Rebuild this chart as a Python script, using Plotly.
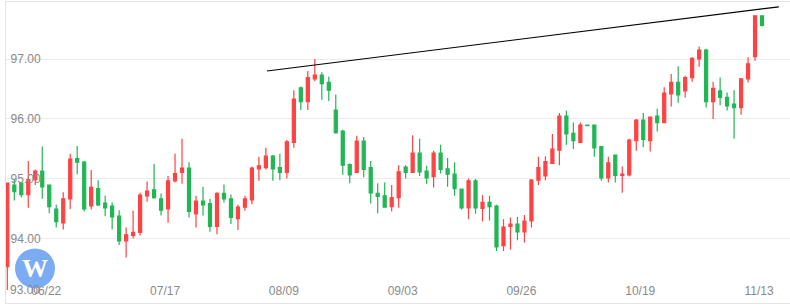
import plotly.graph_objects as go

# candle index (trading days 2018-06-14 .. 2018-11-13)
opens = [93.54, 94.90, 94.93, 94.74, 94.99, 95.13, 94.90, 94.50, 94.27, 94.67,
         95.34, 95.28, 94.55, 94.84, 94.60, 94.55, 94.38, 93.97, 94.06, 94.11,
         94.72, 94.82, 94.67, 94.50, 94.97, 95.11, 95.18, 94.42, 94.63, 94.59,
         94.21, 94.76, 94.67, 94.34, 94.53, 94.65, 95.17, 95.19, 95.38, 95.19,
         95.11, 95.61, 96.52, 96.29, 96.67, 96.73, 96.61, 96.15, 95.80, 95.24,
         95.11, 95.63, 95.19, 94.76, 94.72, 94.54, 94.69, 95.20, 95.11, 95.43,
         95.13, 95.04, 95.43, 95.17, 95.08, 94.83, 94.52, 94.97, 94.51, 94.61,
         94.55, 93.89, 94.21, 94.25, 94.12, 94.30, 94.98, 95.05, 95.26, 95.48,
         96.05, 95.76, 95.61, 95.90, 95.90, 95.54, 95.02, 95.40, 95.06, 95.07,
         95.64, 95.98, 95.64, 96.05, 95.94, 96.42, 96.61, 96.47, 96.69, 97.00,
         97.15, 96.29, 96.47, 96.36, 96.25, 96.19, 96.67, 97.04, 97.72]
highs = [94.94, 95.00, 94.95, 95.30, 95.16, 95.54, 94.90, 94.57, 94.78, 95.42,
         95.55, 95.30, 95.15, 94.98, 94.72, 94.61, 94.48, 94.19, 94.47, 94.77,
         94.96, 95.25, 94.76, 95.05, 95.42, 95.67, 95.28, 94.72, 94.87, 94.67,
         94.78, 94.91, 94.74, 94.57, 94.72, 95.21, 95.37, 95.52, 95.40, 95.42,
         95.65, 96.48, 96.54, 96.80, 97.00, 96.78, 96.71, 96.41, 95.82, 95.26,
         95.72, 95.70, 95.30, 94.93, 94.94, 94.90, 95.23, 95.23, 95.73, 95.67,
         95.22, 95.47, 95.57, 95.35, 95.28, 94.84, 95.01, 95.00, 94.73, 94.72,
         94.57, 94.33, 94.36, 94.37, 94.40, 95.00, 95.37, 95.38, 95.75, 96.10,
         96.14, 95.94, 95.94, 95.90, 95.90, 95.54, 95.37, 95.41, 95.21, 95.67,
         96.00, 96.10, 96.03, 96.17, 96.53, 96.75, 96.88, 96.72, 97.03, 97.21,
         97.17, 96.62, 96.69, 96.44, 96.48, 96.67, 97.03, 97.72, 97.72]
lows = [93.15, 94.64, 94.69, 94.52, 94.90, 94.67, 94.43, 94.19, 94.16, 94.50,
        95.08, 94.46, 94.49, 94.55, 94.38, 94.16, 93.90, 93.69, 94.01, 94.06,
        94.62, 94.67, 94.39, 94.27, 94.94, 94.92, 94.36, 94.19, 94.39, 94.12,
        94.08, 94.61, 94.25, 94.15, 94.47, 94.58, 94.97, 95.16, 94.97, 94.98,
        95.01, 95.52, 96.15, 96.15, 96.63, 96.32, 96.30, 95.76, 95.07, 94.93,
        95.10, 95.03, 94.59, 94.43, 94.52, 94.46, 94.52, 95.01, 95.10, 95.05,
        94.92, 94.86, 95.09, 94.87, 94.72, 94.49, 94.33, 94.42, 94.29, 94.31,
        93.80, 93.80, 93.82, 93.98, 93.94, 94.19, 94.90, 94.98, 95.25, 95.23,
        95.57, 95.50, 95.61, 95.89, 95.37, 94.97, 94.94, 94.94, 94.77, 95.04,
        95.47, 95.53, 95.46, 95.79, 95.93, 96.21, 96.27, 96.36, 96.62, 96.87,
        96.19, 96.00, 96.23, 96.14, 95.67, 96.07, 96.61, 96.97, 97.54]
closes = [94.93, 94.79, 94.74, 94.99, 95.13, 94.87, 94.54, 94.29, 94.67, 95.33,
          95.28, 94.50, 94.86, 94.57, 94.52, 94.37, 93.97, 94.07, 94.11, 94.73,
          94.80, 94.69, 94.48, 94.97, 95.09, 95.18, 94.46, 94.63, 94.57, 94.21,
          94.76, 94.67, 94.36, 94.53, 94.67, 95.18, 95.22, 95.38, 95.17, 95.11,
          95.62, 96.33, 96.29, 96.69, 96.73, 96.59, 96.48, 95.77, 95.23, 95.07,
          95.63, 95.16, 94.77, 94.71, 94.53, 94.69, 95.12, 95.11, 95.43, 95.12,
          95.02, 95.43, 95.16, 95.08, 94.84, 94.52, 94.97, 94.52, 94.61, 94.54,
          93.87, 94.20, 94.25, 94.12, 94.30, 94.98, 95.19, 95.29, 95.50, 96.05,
          95.75, 95.64, 95.90, 95.89, 95.52, 95.02, 95.27, 95.06, 95.08, 95.65,
          95.98, 95.66, 96.03, 95.94, 96.43, 96.61, 96.40, 96.69, 97.01, 97.15,
          96.29, 96.51, 96.36, 96.22, 96.19, 96.67, 96.92, 97.72, 97.56]
idx = list(range(len(opens)))

tick_idx = [6, 23, 40, 57, 74, 91, 108]
tick_labels = ["06/22", "07/17", "08/09", "09/03", "09/26", "10/19", "11/13"]
y_ticks = [94, 95, 96, 97]
y_tick_labels = ["94.00", "95.00", "96.00", "97.00"]

trend_x = [37.15, 110.4]
trend_y = [96.80, 97.87]

RED = "#ff4242"
GREEN = "#21b654"
GRID = "#ebebeb"
TXT = "#8a8a8a"

fig = go.Figure()
fig.add_trace(go.Candlestick(
    x=idx, open=opens, high=highs, low=lows, close=closes,
    increasing=dict(line=dict(color=RED, width=1.2), fillcolor=RED),
    decreasing=dict(line=dict(color=GREEN, width=1.2), fillcolor=GREEN),
    whiskerwidth=0, showlegend=False, hoverinfo="skip"))
fig.add_trace(go.Scatter(x=trend_x, y=trend_y, mode="lines",
                         line=dict(color="black", width=1.2),
                         showlegend=False, hoverinfo="skip"))

fig.update_layout(
    width=790, height=308,
    margin=dict(l=6, r=0, t=2, b=5),
    paper_bgcolor="white", plot_bgcolor="white",
    boxgap=0.38,
    font=dict(family="Liberation Sans, Arial", size=12, color=TXT),
    xaxis=dict(range=[-0.19, 112.0], tickvals=tick_idx, ticktext=tick_labels,
               ticklabelposition="inside", ticklabelstandoff=5,
               ticklabelshift=-3, ticks="",
               showgrid=False, zeroline=False, showline=True,
               linecolor="#e3e3e3", mirror=True,
               rangeslider=dict(visible=False),
               tickfont=dict(color=TXT, size=12)),
    yaxis=dict(range=[92.933, 97.95], tickvals=y_ticks, ticktext=y_tick_labels,
               ticklabelposition="inside", ticklabelstandoff=4, ticks="",
               showgrid=True, gridcolor=GRID, gridwidth=1, zeroline=False,
               showline=True, linecolor="#e3e3e3",
               tickfont=dict(color=TXT, size=12)),
)

# bottom y label (shifted up to stay inside the plot)
fig.add_annotation(xref="paper", yref="y", x=0, y=93.0, text="93.00",
                   showarrow=False, xanchor="left", yanchor="middle",
                   xshift=2, yshift=9, font=dict(color=TXT, size=12))

# logo watermark
fig.add_shape(type="circle", xref="paper", yref="paper",
              xsizemode="pixel", ysizemode="pixel",
              xanchor=0.037, yanchor=0.115, x0=-20, x1=20, y0=-20, y1=20,
              fillcolor="#74a8f2", line=dict(width=0), opacity=0.95)
fig.add_annotation(xref="paper", yref="paper", x=0.037, y=0.115, text="<b>W</b>",
                   showarrow=False, xanchor="center", yanchor="middle",
                   font=dict(family="Liberation Serif", size=26, color="white"))

fig.write_html("out.html", config={"displayModeBar": False},
               post_script="document.body.style.margin='0';document.body.style.padding='0';")
